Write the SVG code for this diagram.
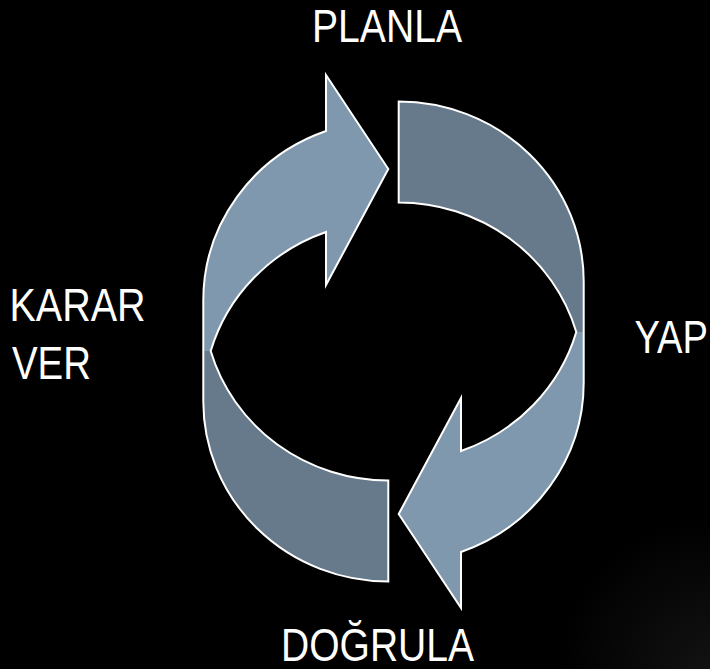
<svg xmlns="http://www.w3.org/2000/svg" xmlns:xlink="http://www.w3.org/1999/xlink" width="710" height="669" viewBox="0 0 710 669">
  <style>
    .light { fill: #7f98ae; stroke: none; }
    .dark { fill: #677a8b; stroke: none; }
    .outline { fill: none; stroke: #ffffff; stroke-width: 2; stroke-linejoin: miter; stroke-miterlimit: 10; }
    .label { font-family: "Liberation Sans", Arial, sans-serif; font-size: 46px; fill: #ffffff; }
  </style>
  <defs>
    <radialGradient id="glow" cx="715" cy="675" r="160" gradientUnits="userSpaceOnUse">
      <stop offset="0" stop-color="#131313"/>
      <stop offset="1" stop-color="#000000"/>
    </radialGradient>
    <g id="cycle-half">
      <path class="dark" d="M 388.3,480.5 L 388.3,581.5 A 185 180 0 0 1 203.3,401.5 L 203.3,351 L 210.7,351 A 185 180 0 0 0 388.3,480.5 Z"/>
      <path class="light" d="M 326,131 L 326,75 L 388.3,169 L 326,285 L 326,232 A 185 180 0 0 0 210.7,351 L 203.3,351 L 203.3,300.5 A 185 180 0 0 1 326,131 Z"/>
      <path class="outline" d="M 210.7,351 A 185 180 0 0 1 326,232 L 326,285 L 388.3,169 L 326,75 L 326,131 A 185 180 0 0 0 203.3,300.5 L 203.3,401.5 A 185 180 0 0 0 388.3,581.5 L 388.3,480.5 A 185 180 0 0 1 210.7,351 Z"/>
    </g>
  </defs>
  <rect x="0" y="0" width="710" height="669" fill="#000000"/>
  <rect x="0" y="0" width="710" height="669" fill="url(#glow)"/>

  <g id="connectors">
    <g id="arrow-left">
      <use xlink:href="#cycle-half"/>
    </g>
    <g id="arrow-right">
      <use xlink:href="#cycle-half" transform="rotate(180 393.5 341.5)"/>
    </g>
  </g>

  <g id="node-planla">
    <text class="label" x="312" y="41.5" textLength="150" lengthAdjust="spacingAndGlyphs">PLANLA</text>
  </g>
  <g id="node-yap">
    <text class="label" x="634.5" y="353.3" textLength="73.5" lengthAdjust="spacingAndGlyphs">YAP</text>
  </g>
  <g id="node-dogrula">
    <text class="label" x="281" y="660.7" textLength="193" lengthAdjust="spacingAndGlyphs">DOĞRULA</text>
  </g>
  <g id="node-karar-ver">
    <text class="label" x="9.5" y="320.5" textLength="136" lengthAdjust="spacingAndGlyphs">KARAR</text>
    <text class="label" x="12" y="379" textLength="79" lengthAdjust="spacingAndGlyphs">VER</text>
  </g>
</svg>
